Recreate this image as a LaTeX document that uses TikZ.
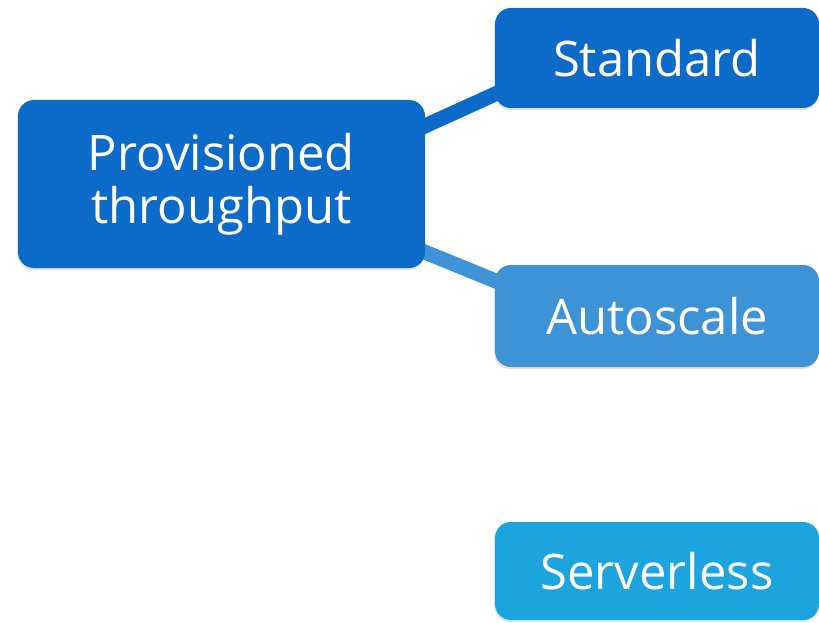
\documentclass[tikz,border=0pt]{standalone}
\usepackage{fontspec}
\setmainfont{Open Sans}
\usetikzlibrary{backgrounds,shadows,calc}

\definecolor{provblue}{RGB}{12,106,200}
\definecolor{autoblue}{RGB}{62,146,214}
\definecolor{servblue}{RGB}{27,164,222}

\tikzset{
  tier/.style={
    rounded corners=16pt, inner sep=0pt, align=center,
    text=white, font=\fontsize{49pt}{53pt}\selectfont,
    drop shadow={opacity=0.22, shadow xshift=-1pt, shadow yshift=-2pt}
  },
  link/.style={line width=15pt, shorten <=-22pt, shorten >=-18pt}
}

\begin{document}
\begin{tikzpicture}[x=1pt, y=-1pt]
  \useasboundingbox (0,0) rectangle (819,623);

  % root and the three tiers
  \node[tier, fill=provblue, minimum width=407pt, minimum height=168pt]
    (prov) at (221.5,184) {Provisioned\\throughput};
  \node[tier, fill=provblue, minimum width=324pt, minimum height=100pt]
    (std) at (657,58) {Standard};
  \node[tier, fill=autoblue, minimum width=324pt, minimum height=102pt]
    (auto) at (657,316) {Autoscale};
  \node[tier, fill=servblue, minimum width=324pt, minimum height=98pt]
    (serv) at (657,571) {Serverless};

  % page area and the links, behind the boxes
  \begin{scope}[on background layer]
    \fill[white] (0,0) rectangle (819,623);
    \draw[link, provblue] ($(prov.north east)+(0,26)$) -- ($(std.south west)+(0,-14)$);
    \draw[link, autoblue] ($(prov.south east)+(-5,-18)$) -- ($(auto.north west)+(-2,15)$);
  \end{scope}
\end{tikzpicture}
\end{document}
